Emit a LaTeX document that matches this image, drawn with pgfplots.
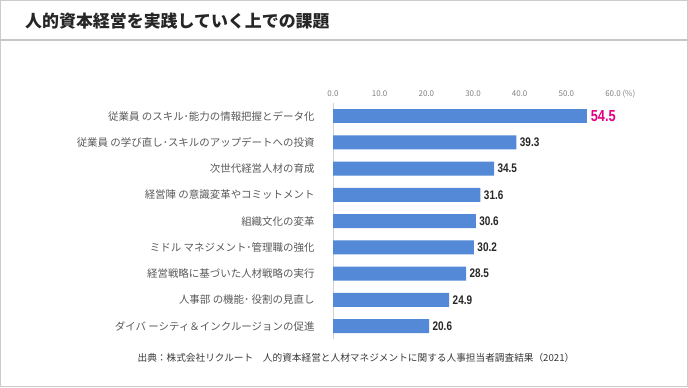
\documentclass[border=0pt]{standalone}
\usepackage{pgfplots}
\pgfplotsset{compat=1.18}
\usepackage{fontspec}
\setmainfont{Noto Sans CJK JP}
\newfontfamily\numfont[FakeStretch=0.8]{Liberation Sans}
\definecolor{barblue}{HTML}{5389D6}
\definecolor{lblgray}{HTML}{595959}
\definecolor{tickgray}{HTML}{808080}
\definecolor{hilite}{HTML}{E4007F}
\begin{document}
\begin{tikzpicture}[x=1bp,y=1bp]
\useasboundingbox (0,0) rectangle (688,-387);
\draw[draw=black!20, line width=1bp] (0.5,-0.5) rectangle (687.5,-386.5);
\draw[draw=black!22, line width=1.5bp] (0,-40) -- (688,-40);
\node[anchor=west, inner sep=0pt, font=\fontsize{17}{19}\selectfont\bfseries, text=black!85] at (25,-21) {人的資本経営を実践していく上での課題};
\node[anchor=center, inner sep=0pt, font=\fontsize{9.7}{11}\selectfont, text=black!78] at (356,-358) {出典：株式会社リクルート　人的資本経営と人材マネジメントに関する人事担当者調査結果（2021）};
\begin{axis}[
  at={(333bp,-103bp)}, anchor=north west,
  scale only axis, width=280bp, height=236.25bp,
  xbar, bar width=14bp, bar shift=0pt,
  xmin=0, xmax=60, ymin=-0.5, ymax=8.5,
  axis line style={draw=none},
  major tick length=0pt,
  clip=false,
  xtick={0,10,20,30,40,50,60},
  xticklabels={0.0,10.0,20.0,30.0,40.0,50.0,60.0\rlap{\smash{ (\%)}}},
  xticklabel pos=upper,
  xticklabel style={font=\fontsize{8}{9}\selectfont, text=tickgray, yshift=3bp},
  ytick={0,1,2,3,4,5,6,7,8},
  yticklabels={ダイバ ーシティ＆インクルージョンの促進,
    人事部 の機能･ 役割の見直し,
    経営戦略に基づいた人材戦略の実行,
    ミドル マネジメント･管理職の強化,
    組織文化の変革,
    経営陣 の意識変革やコミットメント,
    次世代経営人材の育成,
    従業員 の学び直し･スキルのアップデートへの投資,
    従業員 のスキル･能力の情報把握とデータ化},
  yticklabel style={font=\fontsize{10.5}{12}\selectfont, text=lblgray, xshift=-15bp},
  /pgf/number format/.cd, fixed, precision=1, fixed zerofill, assume math mode=true,
]
\draw[black!18, line width=1bp] (axis cs:0,-0.5) -- (axis cs:0,8.5);
\addplot[fill=barblue, draw=none, nodes near coords,
  every node near coord/.append style={anchor=west, font=\numfont\bfseries\fontsize{16}{18}\selectfont, text=hilite}]
  coordinates {(54.5,8)};
\addplot[fill=barblue, draw=none, nodes near coords,
  every node near coord/.append style={anchor=west, font=\numfont\bfseries\fontsize{12.5}{14}\selectfont, text=black!85}]
  coordinates {(39.3,7) (34.5,6) (31.6,5) (30.6,4) (30.2,3) (28.5,2) (24.9,1) (20.6,0)};
\end{axis}
\end{tikzpicture}
\end{document}
